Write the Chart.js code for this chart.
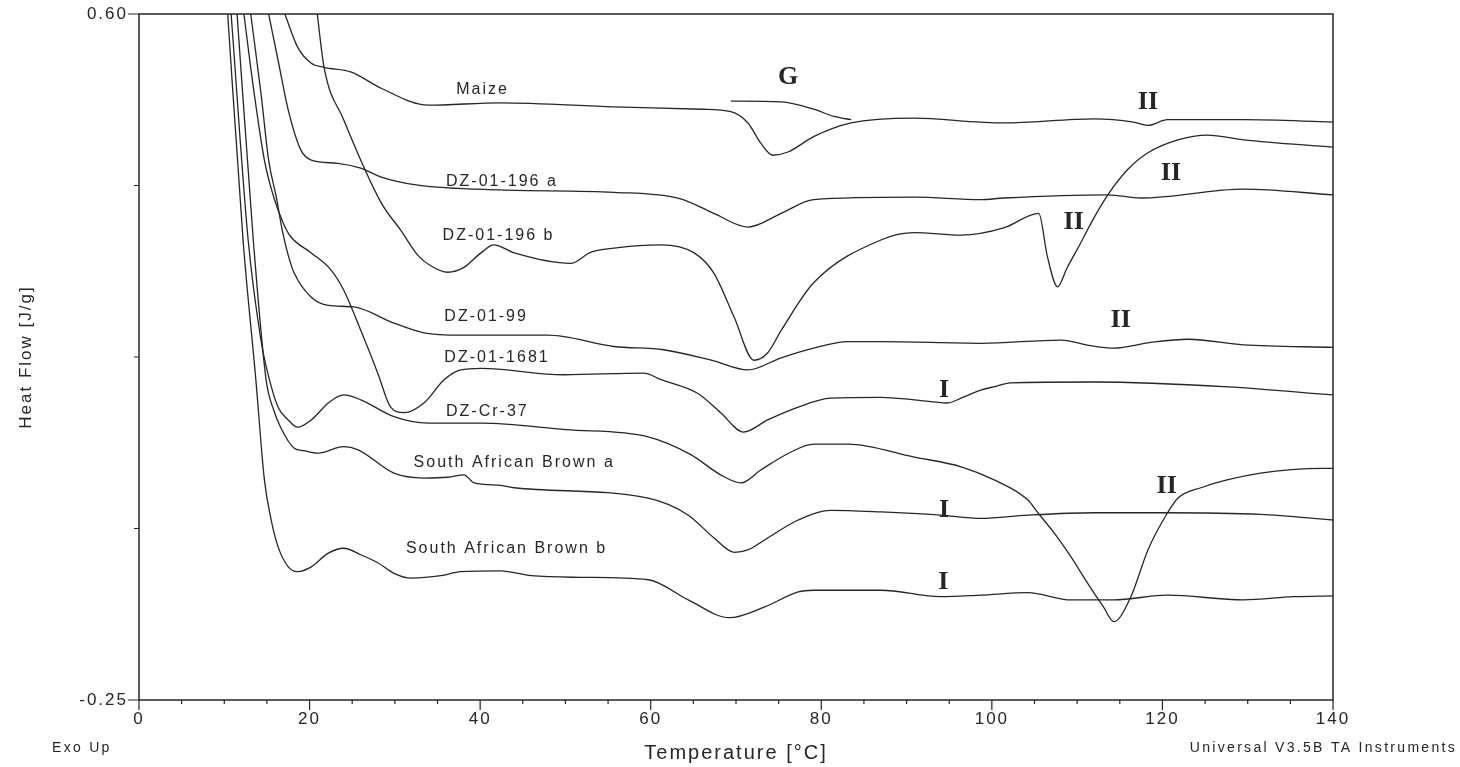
<!DOCTYPE html>
<html>
<head>
<meta charset="utf-8">
<script src="https://cdn.jsdelivr.net/npm/chart.js@4.4.1/dist/chart.umd.min.js"></script>
<style>
  html, body { margin: 0; padding: 0; background: #fff; }
  #wrap { width: 1460px; height: 767px; }
</style>
</head>
<body>
<div id="wrap"><canvas id="dsc" width="1460" height="767"></canvas></div>
<script>
// temperature [°C], heat flow [J/g]
const maize = [[17.1,0.600],[18.6,0.559],[20.2,0.539],[21.7,0.534],[24.9,0.528],[28.4,0.508],[33.9,0.487],[42.4,0.490],[55.7,0.485],[66.0,0.482],[69.4,0.479],[71.4,0.465],[72.9,0.440],[74.3,0.425],[76.1,0.429],[79.1,0.448],[83.5,0.465],[90.9,0.471],[98.7,0.466],[101.4,0.465],[112.0,0.470],[116.6,0.466],[118.3,0.462],[120.6,0.469],[129.5,0.469],[140,0.466]];
const dz196a = [[15.2,0.600],[16.3,0.543],[17.5,0.481],[19.0,0.431],[20.2,0.419],[23.3,0.415],[26.0,0.409],[28.4,0.398],[32.7,0.388],[42.4,0.382],[55.7,0.379],[63.5,0.371],[67.4,0.353],[71.4,0.336],[75.3,0.353],[79.1,0.370],[90.9,0.373],[98.7,0.370],[101.4,0.372],[113.6,0.376],[117.5,0.372],[129.5,0.383],[140,0.376]];
const dz196b = [[20.9,0.600],[21.7,0.534],[24.0,0.469],[28.4,0.366],[30.7,0.332],[32.7,0.301],[34.2,0.288],[36.2,0.280],[38.1,0.286],[40.1,0.304],[41.6,0.314],[44.0,0.304],[50.6,0.291],[53.0,0.305],[55.7,0.310],[61.2,0.314],[65.1,0.304],[67.4,0.279],[69.8,0.224],[72.1,0.171],[73.7,0.180],[75.3,0.208],[79.1,0.267],[87.0,0.320],[90.9,0.329],[96.4,0.326],[101.4,0.335],[105.5,0.353],[106.5,0.300],[107.7,0.262],[108.8,0.285],[110.4,0.316],[112.0,0.348],[113.6,0.376],[115.9,0.407],[118.3,0.428],[121.8,0.444],[125.3,0.450],[129.5,0.444],[140,0.435]];
const dz99 = [[13.1,0.600],[14.3,0.502],[15.2,0.419],[16.1,0.373],[16.8,0.332],[17.5,0.301],[18.2,0.279],[20.2,0.249],[22.2,0.239],[25.2,0.237],[29.9,0.217],[33.4,0.205],[37.7,0.202],[47.9,0.202],[55.7,0.188],[61.5,0.184],[67.1,0.171],[71.4,0.159],[75.3,0.174],[79.1,0.186],[83.1,0.194],[87.0,0.194],[98.7,0.192],[108.1,0.196],[111.6,0.189],[114.3,0.186],[118.6,0.193],[123.0,0.197],[129.5,0.190],[140,0.187]];
const dz1681 = [[12.3,0.600],[13.5,0.502],[14.7,0.419],[15.8,0.373],[17.0,0.339],[17.8,0.324],[20.2,0.304],[22.5,0.283],[24.0,0.258],[26.0,0.208],[28.0,0.155],[29.5,0.113],[31.1,0.106],[33.4,0.118],[35.8,0.147],[37.7,0.159],[40.1,0.161],[49.8,0.153],[59.2,0.155],[61.2,0.147],[65.5,0.130],[68.2,0.106],[70.9,0.082],[73.7,0.097],[77.3,0.113],[81.1,0.124],[87.0,0.125],[90.9,0.122],[94.8,0.118],[96.4,0.124],[98.7,0.134],[100.2,0.138],[102.2,0.143],[112.0,0.144],[127.7,0.138],[140,0.128]];
const dzCr37 = [[10.8,0.600],[12.8,0.320],[14.3,0.196],[15.1,0.155],[16.3,0.113],[17.5,0.097],[18.6,0.088],[20.2,0.097],[22.2,0.118],[24.0,0.128],[26.0,0.122],[29.9,0.101],[33.9,0.093],[40.1,0.093],[50.0,0.085],[59.7,0.076],[64.7,0.054],[68.2,0.029],[70.6,0.019],[72.9,0.035],[76.4,0.057],[79.1,0.067],[83.1,0.067],[90.9,0.051],[96.4,0.039],[100.2,0.023],[104.2,-0.002],[105.4,-0.018],[107.3,-0.043],[109.3,-0.073],[111.2,-0.105],[113.1,-0.135],[114.3,-0.153],[116.3,-0.122],[118.3,-0.064],[120.6,-0.018],[121.8,0.000],[124.5,0.013],[131.5,0.031],[138.9,0.037],[140,0.037]];
const saBrownA = [[11.5,0.600],[13.4,0.320],[14.9,0.147],[15.8,0.109],[16.6,0.088],[18.2,0.062],[19.3,0.059],[21.0,0.056],[24.0,0.064],[25.7,0.060],[29.9,0.031],[33.4,0.025],[36.2,0.026],[38.1,0.029],[39.3,0.019],[42.4,0.016],[44.0,0.013],[59.7,0.000],[64.4,-0.021],[67.4,-0.049],[69.8,-0.067],[71.4,-0.064],[73.3,-0.052],[77.3,-0.027],[81.1,-0.015],[87.0,-0.017],[94.0,-0.021],[98.7,-0.025],[104.2,-0.021],[112.0,-0.018],[119.8,-0.018],[131.5,-0.020],[140,-0.027]];
const saBrownB = [[10.4,0.600],[12.2,0.320],[13.7,0.147],[14.7,0.023],[15.5,-0.027],[16.3,-0.060],[17.5,-0.085],[18.6,-0.091],[20.2,-0.085],[22.2,-0.068],[24.0,-0.062],[26.0,-0.070],[28.0,-0.080],[29.9,-0.093],[31.9,-0.099],[35.4,-0.096],[37.7,-0.091],[42.4,-0.090],[46.0,-0.096],[51.8,-0.098],[59.7,-0.101],[64.4,-0.126],[69.2,-0.148],[73.3,-0.135],[77.3,-0.116],[79.1,-0.114],[87.0,-0.114],[94.0,-0.122],[98.7,-0.120],[104.2,-0.117],[109.3,-0.126],[114.3,-0.126],[120.6,-0.120],[129.5,-0.126],[135.4,-0.122],[140,-0.121]];
const gMark = [[69.4,0.492],[75.3,0.491],[79.1,0.482],[81.5,0.473],[83.5,0.469]];

const curves = [maize, dz196a, dz196b, dz99, dz1681, dzCr37, saBrownA, saBrownB, gMark];

const xTickStep = 20;
const xMinorStep = 5;
const yTickValues = [-0.25, -0.0375, 0.175, 0.3875, 0.60];
const yTickLabels = ['-0.25', '', '', '', '0.60'];

// curve names and the roman-numeral marks, placed in data units
const sampleLabels = [
    ['Maize', 37.2, 0.506],
    ['DZ-01-196 a', 36.0, 0.392],
    ['DZ-01-196 b', 35.6, 0.326],
    ['DZ-01-99', 35.8, 0.225],
    ['DZ-01-1681', 35.8, 0.174],
    ['DZ-Cr-37', 36.0, 0.107],
    ['South African Brown a', 32.2, 0.044],
    ['South African Brown b', 31.3, -0.062],
];
const formLabels = [
    ['G', 76.1, 0.522],
    ['II', 118.3, 0.491],
    ['II', 121.0, 0.403],
    ['II', 109.6, 0.342],
    ['II', 115.1, 0.221],
    ['I', 94.4, 0.134],
    ['II', 120.5, 0.015],
    ['I', 94.4, -0.015],
    ['I', 94.3, -0.104],
];

const ink = '#262626';
const sans = "'Liberation Sans', Arial, sans-serif";

const frame = {
    id: 'frame',
    beforeDraw(chart) {
        chart.ctx.letterSpacing = '2px';
    },
    afterDatasetsDraw(chart) {
        const {ctx, chartArea: a, scales: {x, y}} = chart;
        ctx.save();
        ctx.strokeStyle = ink;
        ctx.lineWidth = 1.5;
        ctx.strokeRect(a.left, a.top, a.right - a.left, a.bottom - a.top);

        ctx.lineWidth = 1.2;
        ctx.beginPath();
        for (let v = x.min; v <= x.max; v += xMinorStep) {
            const px = x.getPixelForValue(v);
            const len = v % xTickStep === 0 ? 10 : 4;
            ctx.moveTo(px, a.bottom);
            ctx.lineTo(px, a.bottom + len);
        }
        yTickValues.forEach((v, i) => {
            const py = y.getPixelForValue(v);
            const len = yTickLabels[i] ? 11 : 5;
            ctx.moveTo(a.left, py);
            ctx.lineTo(a.left - len, py);
        });
        ctx.stroke();

        ctx.fillStyle = ink;
        ctx.textBaseline = 'middle';
        ctx.textAlign = 'left';
        ctx.font = '16px ' + sans;
        ctx.letterSpacing = '2px';
        sampleLabels.forEach(([t, vx, vy]) => {
            ctx.fillText(t, x.getPixelForValue(vx), y.getPixelForValue(vy));
        });

        ctx.textAlign = 'center';
        ctx.font = "bold 26px 'Liberation Serif', 'Times New Roman', serif";
        ctx.letterSpacing = '0px';
        formLabels.forEach(([t, vx, vy]) => {
            ctx.fillText(t, x.getPixelForValue(vx), y.getPixelForValue(vy));
        });

        ctx.font = '14px ' + sans;
        ctx.letterSpacing = '2.3px';
        ctx.textAlign = 'left';
        ctx.fillText('Exo Up', 52, 748);
        ctx.textAlign = 'right';
        ctx.fillText('Universal V3.5B TA Instruments', 1457, 748);
        ctx.restore();
    }
};

new Chart(document.getElementById('dsc'), {
    type: 'line',
    data: {
        datasets: curves.map(c => ({
            data: c.map(([t, h]) => ({x: t, y: h})),
            borderColor: ink,
            borderWidth: 1.3,
            pointRadius: 0,
            fill: false,
            cubicInterpolationMode: 'monotone',
        }))
    },
    options: {
        responsive: false,
        animation: false,
        layout: {padding: {left: 0, right: 127, top: 14, bottom: 0}},
        plugins: {legend: {display: false}, tooltip: {enabled: false}},
        scales: {
            x: {
                type: 'linear',
                min: 0,
                max: 140,
                afterFit(s) { s.height = 67; },
                grid: {display: false, drawTicks: false},
                border: {display: false},
                ticks: {
                    stepSize: xTickStep,
                    padding: 9,
                    maxRotation: 0,
                    autoSkip: false,
                    color: ink,
                    font: {family: sans, size: 17},
                },
                title: {
                    display: true,
                    text: 'Temperature [°C]',
                    color: ink,
                    font: {family: sans, size: 20},
                    padding: {top: 0, bottom: 2},
                },
            },
            y: {
                min: -0.25,
                max: 0.60,
                afterFit(s) {
                    s.width = 139;
                    s.paddingTop = 0;
                    s.paddingBottom = 0;
                },
                afterBuildTicks(s) { s.ticks = yTickValues.map(v => ({value: v})); },
                grid: {display: false, drawTicks: false},
                border: {display: false},
                ticks: {
                    callback: (v, i) => yTickLabels[i],
                    padding: 11,
                    color: ink,
                    font: {family: sans, size: 17},
                },
                title: {
                    display: true,
                    text: 'Heat Flow [J/g]',
                    color: ink,
                    font: {family: sans, size: 17},
                    padding: {top: 16, bottom: 0},
                },
            },
        },
    },
    plugins: [frame],
});
</script>
</body>
</html>
